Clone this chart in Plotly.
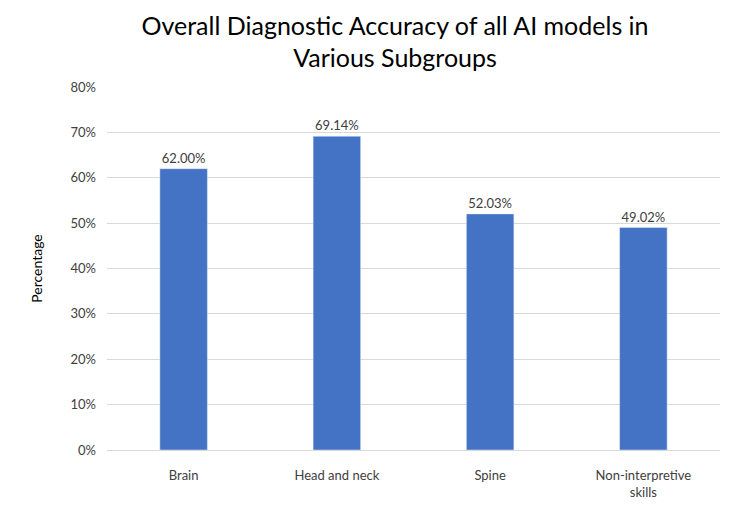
import plotly.graph_objects as go

categories = ["Brain", "Head and neck", "Spine", "Non-interpretive<br>skills"]
accuracy = [62.00, 69.14, 52.03, 49.02]
tick_vals = [0, 10, 20, 30, 40, 50, 60, 70, 80]
tick_text = [f"{v}%" for v in tick_vals]

FONT = "Lato, Open Sans, sans-serif"

fig = go.Figure(go.Bar(
    x=categories, y=accuracy,
    marker_color="#4472C4",
    text=[f"{v:.2f}%" for v in accuracy],
    textposition="outside",
    textfont=dict(size=13, color="#404040"),
    cliponaxis=False,
))

# page body has an 8px margin, so the figure is sized a little smaller
fig.update_layout(
    width=742, height=508,
    paper_bgcolor="white", plot_bgcolor="white",
    font=dict(family=FONT, color="#595959", size=13),
    margin=dict(l=99, r=30, t=79, b=66),
    bargap=0.69,
    showlegend=False,
    title=dict(
        text="Overall Diagnostic Accuracy of all AI models in<br>Various Subgroups",
        x=0.5216, xanchor="center", y=0.947, yanchor="top",
        font=dict(size=25, color="#000000", family=FONT),
    ),
    xaxis=dict(
        showgrid=False, showline=True, linecolor="#d9d9d9", linewidth=1,
        ticks="", ticklabelstandoff=13, tickfont=dict(size=13, color="#404040"),
    ),
    yaxis=dict(
        range=[0, 80], tickvals=tick_vals, ticktext=tick_text,
        gridcolor="#d9d9d9", gridwidth=1, zeroline=False,
        ticklabelstandoff=10,
        tickfont=dict(size=13, color="#404040"),
        title=dict(text="Percentage", font=dict(size=14, color="#000000"), standoff=24),
    ),
)

fig.write_html("out.html")
